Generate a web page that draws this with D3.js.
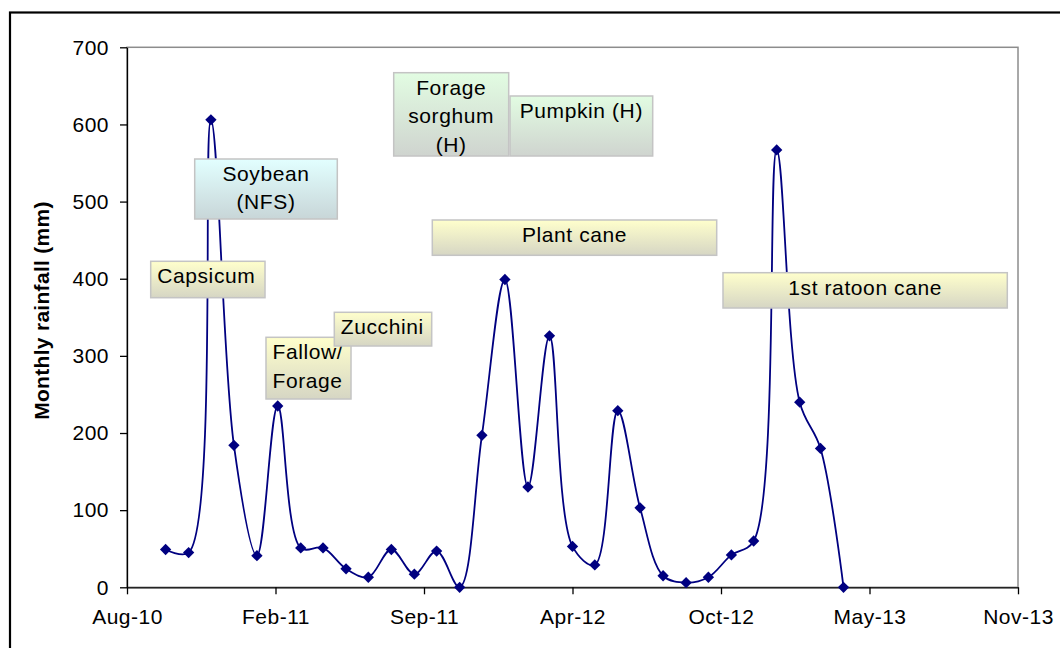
<!DOCTYPE html>
<html>
<head>
<meta charset="utf-8">
<script src="https://cdn.jsdelivr.net/npm/d3@7"></script>
<style>
  html, body { margin: 0; padding: 0; background: #fff; }
  #svg-container { width: 1060px; height: 648px; }
  svg { display: block; font-family: "Liberation Sans", Arial, sans-serif; }
  .axis text { font-size: 21px; letter-spacing: 0.5px; fill: #000; }
  .axis path, .axis line { stroke: #000; stroke-width: 1.3; }
  .axis-label { font-size: 21px; font-weight: bold; letter-spacing: 0.3px; }
  .crop-text { font-size: 21px; letter-spacing: 0.6px; fill: #000; }
</style>
</head>
<body>
<div id="svg-container"></div>
<script>
// monthly rainfall (mm), first of each month
const months = [
  "2010-10-01", "2010-11-01", "2010-12-01", "2011-01-01", "2011-02-01", "2011-03-01",
  "2011-04-01", "2011-05-01", "2011-06-01", "2011-07-01", "2011-08-01", "2011-09-01",
  "2011-10-01", "2011-11-01", "2011-12-01", "2012-01-01", "2012-02-01", "2012-03-01",
  "2012-04-01", "2012-05-01", "2012-06-01", "2012-07-01", "2012-08-01", "2012-09-01",
  "2012-10-01", "2012-11-01", "2012-12-01", "2013-01-01", "2013-02-01", "2013-03-01",
  "2013-04-01"
];
const rainfall = [
  49, 45, 606, 184, 41, 235,
  51, 51, 24, 13, 49, 17,
  47, 0, 197, 399, 130, 326,
  53, 29, 229, 103, 15, 6,
  13, 42, 60, 567, 240, 180,
  0
];

// axis ticks (Excel date axis, 200-day steps)
const xTickDates = ["2010-08-10", "2011-02-26", "2011-09-14", "2012-04-01", "2012-10-18", "2013-05-06", "2013-11-22"];
const xTickLabels = ["Aug-10", "Feb-11", "Sep-11", "Apr-12", "Oct-12", "May-13", "Nov-13"];
const yTickValues = [0, 100, 200, 300, 400, 500, 600, 700];

// crop annotations
const cropLabels = [
  ["Capsicum"],
  ["Soybean", "(NFS)"],
  ["Fallow/", "Forage"],
  ["Zucchini"],
  ["Forage", "sorghum", "(H)"],
  ["Pumpkin (H)"],
  ["Plant cane"],
  ["1st ratoon cane"]
];

// box layout for the annotations (pixels)
const boxLayout = [
  { x: 150.7, y: 261.3, w: 114.3, h: 36.4, align: "start", color: "yellow" },
  { x: 194.7, y: 159, w: 142.6, h: 60, align: "middle", color: "cyan" },
  { x: 266, y: 337.3, w: 85, h: 61.7, align: "start", color: "yellow" },
  { x: 334.3, y: 312.3, w: 97.4, h: 33.7, align: "start", color: "yellow" },
  { x: 393.7, y: 72.7, w: 115, h: 83.3, align: "middle", color: "green" },
  { x: 510, y: 96, w: 142.7, h: 60, align: "middle", color: "green" },
  { x: 432.3, y: 220, w: 284.4, h: 35.3, align: "middle", color: "yellow" },
  { x: 723, y: 272.7, w: 284.3, h: 35.3, align: "middle", color: "yellow" }
];

const width = 1060;
const height = 648;
const margin = { top: 47.3, right: 42, bottom: 60.7, left: 127 };

const parseDate = d3.timeParse("%Y-%m-%d");
const data = months.map((m, i) => ({ date: parseDate(m), value: rainfall[i] }));

const svg = d3.select("#svg-container").append("svg")
  .attr("width", width)
  .attr("height", height);

// gradients for the boxes
const defs = svg.append("defs");
const gradients = {
  yellow: ["#ffffcc", "#d6d6c4"],
  cyan: ["#e2ffff", "#c8d6d8"],
  green: ["#e2fce2", "#cfd4cf"]
};
Object.entries(gradients).forEach(([name, stops]) => {
  const g = defs.append("linearGradient")
    .attr("id", "grad-" + name)
    .attr("x1", 0).attr("y1", 0).attr("x2", 0).attr("y2", 1);
  g.append("stop").attr("offset", "0%").attr("stop-color", stops[0]);
  g.append("stop").attr("offset", "100%").attr("stop-color", stops[1]);
});

// outer chart border (right and bottom run off the picture)
svg.append("rect")
  .attr("x", 10).attr("y", 12.5)
  .attr("width", 1100).attr("height", 700)
  .attr("fill", "none")
  .attr("stroke", "#000")
  .attr("stroke-width", 2.2);

// scales
const xScale = d3.scaleTime()
  .domain([parseDate(xTickDates[0]), parseDate(xTickDates[xTickDates.length - 1])])
  .range([margin.left, width - margin.right]);

const yScale = d3.scaleLinear()
  .domain([0, 700])
  .range([height - margin.bottom, margin.top]);

// plot area frame (grey top/right)
svg.append("rect")
  .attr("x", margin.left)
  .attr("y", margin.top)
  .attr("width", width - margin.right - margin.left)
  .attr("height", height - margin.bottom - margin.top)
  .attr("fill", "none")
  .attr("stroke", "#8c8c8c")
  .attr("stroke-width", 1.5);

// axes
const xAxis = d3.axisBottom(xScale)
  .tickValues(xTickDates.map(parseDate))
  .tickFormat((d, i) => xTickLabels[i])
  .tickSize(7)
  .tickSizeOuter(0)
  .tickPadding(15);

const yAxis = d3.axisLeft(yScale)
  .tickValues(yTickValues)
  .tickSize(7)
  .tickSizeOuter(0)
  .tickPadding(11);

svg.append("g")
  .attr("class", "axis")
  .attr("transform", `translate(0,${height - margin.bottom})`)
  .call(xAxis);

svg.append("g")
  .attr("class", "axis")
  .attr("transform", `translate(${margin.left},0)`)
  .call(yAxis);

svg.append("text")
  .attr("class", "axis-label")
  .attr("transform", `translate(49, 310.5)rotate(-90)`)
  .style("text-anchor", "middle")
  .text("Monthly rainfall (mm)");

// smoothed line (centripetal spline keeps the low months flat like Excel)
const line = d3.line()
  .x((d) => xScale(d.date))
  .y((d) => yScale(d.value))
  .curve(d3.curveCatmullRom.alpha(0.5));

svg.append("path")
  .datum(data)
  .attr("d", line)
  .attr("fill", "none")
  .attr("stroke", "#000080")
  .attr("stroke-width", 1.8);

// diamond markers
const diamond = d3.symbol().type(d3.symbolSquare).size(64);
svg.selectAll(".marker")
  .data(data)
  .enter()
  .append("path")
  .attr("class", "marker")
  .attr("d", diamond)
  .attr("transform", (d) => `translate(${xScale(d.date)},${yScale(d.value)})rotate(45)`)
  .attr("fill", "#000080");

// annotation boxes
const boxes = svg.selectAll(".crop")
  .data(cropLabels.map((lines, i) => ({ lines, ...boxLayout[i] })))
  .enter()
  .append("g")
  .attr("class", "crop");

boxes.append("rect")
  .attr("x", (d) => d.x)
  .attr("y", (d) => d.y)
  .attr("width", (d) => d.w)
  .attr("height", (d) => d.h)
  .attr("fill", (d) => `url(#grad-${d.color})`)
  .attr("stroke", "#c4c4c4")
  .attr("stroke-width", 1.5);

boxes.each(function (d) {
  const t = d3.select(this).append("text")
    .attr("class", "crop-text")
    .attr("text-anchor", d.align);
  d.lines.forEach((ln, j) => {
    t.append("tspan")
      .attr("x", d.align === "middle" ? d.x + d.w / 2 : d.x + 6.5)
      .attr("y", d.y + 22 + j * 28.4)
      .text(ln);
  });
});
</script>
</body>
</html>
